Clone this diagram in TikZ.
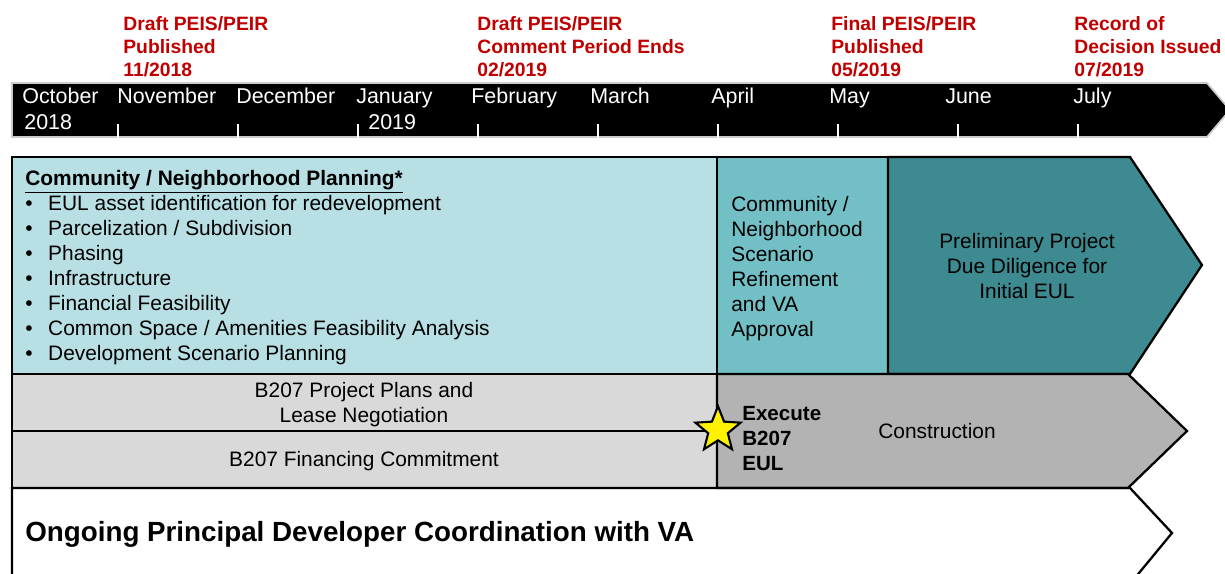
\documentclass[tikz,border=0pt]{standalone}
\usepackage{fontspec}
\setmainfont{Liberation Sans}
\usepackage{xcolor}
\usepackage{tikz}
\usetikzlibrary{shapes.geometric}
\definecolor{peisred}{HTML}{C00000}
\definecolor{planlight}{HTML}{B8DFE3}
\definecolor{planmid}{HTML}{72BFC6}
\definecolor{plandark}{HTML}{3D8A91}
\definecolor{leasegray}{HTML}{D9D9D9}
\definecolor{buildgray}{HTML}{B3B3B3}
\tikzstyle{band} = [draw=black, line width=1.3pt]
\tikzstyle{tick} = [draw=white, line width=0.9pt]
\tikzstyle{month} = [anchor=base west, inner sep=0pt, text=white,
    font=\fontsize{12.2}{14}\selectfont]
\tikzstyle{milestone} = [anchor=west, inner sep=0pt, align=left, text=peisred,
    font=\fontsize{11}{13.1}\selectfont\bfseries]
\tikzstyle{bodytext} = [inner sep=0pt, font=\fontsize{11.9}{14.2}\selectfont]
\newcommand{\listdot}{\makebox[13pt][l]{\textbullet}}

\begin{document}
\begin{tikzpicture}[x=0.02cm, y=-0.02cm]
      \useasboundingbox (0,0) rectangle (1225,574);
      % Timeline
      \filldraw [fill=black, draw=black!20, line width=1pt] (12,83) -- (1207,83) -- (1230,110) -- (1207,137) -- (12,137) -- cycle;
      \draw [tick] (118,124) -- (118,141);
      \draw [tick] (238,124) -- (238,141);
      \draw [tick] (358,124) -- (358,141);
      \draw [tick] (478,124) -- (478,141);
      \draw [tick] (598,124) -- (598,141);
      \draw [tick] (718,124) -- (718,141);
      \draw [tick] (838,124) -- (838,141);
      \draw [tick] (958,124) -- (958,141);
      \draw [tick] (1078,124) -- (1078,141);
      \node [month] (october) at (22,103.5) {October};
      \node [month] (year-2018) at (24,129.5) {2018};
      \node [month] (november) at (117,103.5) {November};
      \node [month] (december) at (236,103.5) {December};
      \node [month] (january) at (356,103.5) {January};
      \node [month] (year-2019) at (368,129.5) {2019};
      \node [month] (february) at (471,103.5) {February};
      \node [month] (march) at (590,103.5) {March};
      \node [month] (april) at (711,103.5) {April};
      \node [month] (may) at (829,103.5) {May};
      \node [month] (june) at (945,103.5) {June};
      \node [month] (july) at (1073,103.5) {July};
      % Milestones
      \node [milestone] (draft-published) at (123,47) {Draft PEIS/PEIR\\Published\\11/2018};
      \node [milestone] (comment-ends) at (477,47) {Draft PEIS/PEIR\\Comment Period Ends\\02/2019};
      \node [milestone] (final-published) at (831,47) {Final PEIS/PEIR\\Published\\05/2019};
      \node [milestone] (decision-issued) at (1074,47) {Record of\\Decision Issued\\07/2019};
      % Bands
      \filldraw [band, fill=planlight] (12,157) rectangle (717,374);
      \filldraw [band, fill=planmid] (717,157) rectangle (888,374);
      \filldraw [band, fill=plandark] (888,157) -- (1130,157) -- (1202,265) -- (1130,374) -- (888,374) -- cycle;
      \filldraw [band, fill=leasegray] (12,374) rectangle (717,431);
      \filldraw [band, fill=leasegray] (12,431) rectangle (717,488);
      \filldraw [band, fill=buildgray] (717,374) -- (1128,374) -- (1187,431) -- (1128,488) -- (717,488) -- cycle;
      \draw [band] (12,590) -- (12,488) -- (1130,488) -- (1172,533) -- (1125,590);
      % Band texts
      \node [bodytext, anchor=west, align=left] (planning-list) at (25,267.5)
          {\underline{\textbf{Community / Neighborhood Planning*}}\\
           \listdot EUL asset identification for redevelopment\\
           \listdot Parcelization / Subdivision\\
           \listdot Phasing\\
           \listdot Infrastructure\\
           \listdot Financial Feasibility\\
           \listdot Common Space / Amenities Feasibility Analysis\\
           \listdot Development Scenario Planning};
      \node [bodytext, anchor=west, align=left] (scenario-refinement) at (731,268.5)
          {Community /\\Neighborhood\\Scenario\\Refinement\\and VA\\Approval};
      \node [bodytext, align=center] (due-diligence) at (1027,266)
          {Preliminary Project\\Due Diligence for\\Initial EUL};
      \node [bodytext, align=center] (lease-negotiation) at (364,405)
          {B207 Project Plans and\\Lease Negotiation};
      \node [bodytext] (financing) at (364,461) {B207 Financing Commitment};
      \node [bodytext] (construction) at (937,431) {Construction};
      \node [star, star points=5, star point ratio=2.3, draw=black, line width=1.2pt,
          fill=yellow, minimum size=0.95cm, inner sep=0pt] (execute-star) at (718,430) {};
      \node [bodytext, anchor=west, align=left, font=\fontsize{11.7}{14.2}\selectfont\bfseries]
          (execute) at (742,438.5) {Execute\\B207\\EUL};
      \node [bodytext, anchor=west, font=\fontsize{15.8}{18}\selectfont\bfseries]
          (coordination) at (25,534) {Ongoing Principal Developer Coordination with VA};
  \end{tikzpicture}
\end{document}
